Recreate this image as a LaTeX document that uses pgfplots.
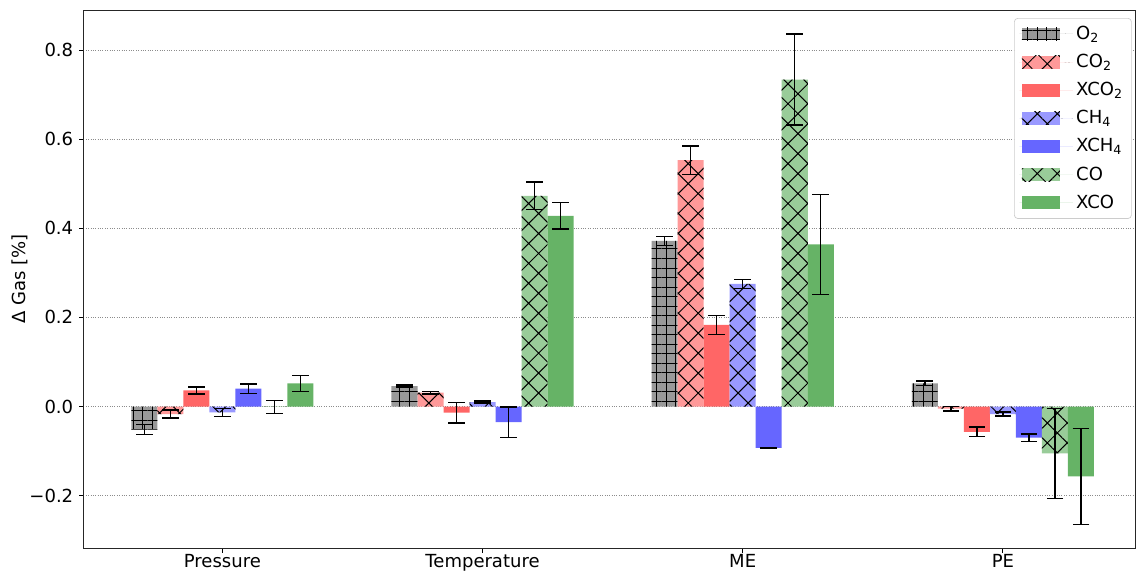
\documentclass[border=0pt]{standalone}
\usepackage{fontspec}
\setmainfont{DejaVu Sans}
\usepackage{pgfplots}
\pgfplotsset{compat=1.18}
\usetikzlibrary{patterns.meta}

\definecolor{cO}{HTML}{999999}
\definecolor{cCOtwo}{HTML}{FF9999}
\definecolor{cXCOtwo}{HTML}{FF6666}
\definecolor{cCH}{HTML}{9999FF}
\definecolor{cXCH}{HTML}{6666FF}
\definecolor{cCO}{HTML}{99CC99}
\definecolor{cXCO}{HTML}{66B366}

\pgfplotsset{
  gasbar/.style={ybar, bar width=0.1, bar shift=0pt, draw=none,
    legend image code/.code={%
      \path (-1.4pt,0) -- (30pt,0);
      \fill[sharp corners,##1] (0pt,-3.8pt) rectangle (22.3pt,3.8pt);},
    error bars/y dir=both, error bars/y explicit,
    error bars/error bar style={line width=0.8pt, black},
    error bars/error mark options={rotate=90, mark size=4.9pt, line width=0.8pt, black}},
  gridhatch/.style={postaction={pattern={Hatch[angle=0,distance=5.6pt,line width=0.6pt]}, pattern color=black}},
  crosshatch/.style={postaction={pattern={Hatch[angle=45,distance=8.3pt,line width=0.6pt]}, pattern color=black}},
}

\begin{document}
\begin{tikzpicture}[font=\fontsize{10.6}{12.7}\selectfont]
\useasboundingbox (-49.1pt,-14.1pt) rectangle (619.9pt,322.8pt);
\begin{axis}[
  scale only axis, width=619.2pt, height=316.9pt,
  xmin=-0.534, xmax=3.511, ymin=-0.319, ymax=0.890,
  xtick={0,1,2,3}, xticklabels={Pressure,Temperature,ME,PE},
  ytick={-0.2,0,0.2,0.4,0.6,0.8},
  yticklabels={−0.2,0.0,0.2,0.4,0.6,0.8},
  xtick pos=bottom, ytick pos=left,
  tick align=outside, major tick length=2.5pt,
  tick style={black, line width=0.5pt},
  xticklabel style={yshift=2.4pt},
  axis line style={black!85, line width=0.5pt},
  ymajorgrids, grid style={densely dotted, black!45, line width=0.4pt},
  ylabel={Δ Gas [\%]},
  every axis y label/.style={at={(axis description cs:-0.0602,0.5)}, rotate=90, anchor=center},
  legend style={at={(axis description cs:1,1)}, xshift=-2.4pt, yshift=-4.7pt,
    anchor=north east, draw=black!20, rounded corners=2pt, fill=white,
    inner xsep=3pt, inner ysep=2.5pt, row sep=3.2pt, cells={anchor=west},
    font=\fontsize{10.6}{12.7}\selectfont},
]
% O2
\addplot[gasbar, fill=cO, gridhatch] coordinates {
  (-0.3,-0.052) +- (0,0.011)
  (0.7,0.046) +- (0,0.002)
  (1.7,0.372) +- (0,0.010)
  (2.7,0.052) +- (0,0.005)};
\addlegendentry{O\textsubscript{2}}
% CO2
\addplot[gasbar, fill=cCOtwo, crosshatch] coordinates {
  (-0.2,-0.017) +- (0,0.009)
  (0.8,0.031) +- (0,0.003)
  (1.8,0.553) +- (0,0.032)
  (2.8,-0.005) +- (0,0.005)};
\addlegendentry{CO\textsubscript{2}}
% XCO2
\addplot[gasbar, fill=cXCOtwo] coordinates {
  (-0.1,0.036) +- (0,0.008)
  (0.9,-0.014) +- (0,0.023)
  (1.9,0.183) +- (0,0.022)
  (2.9,-0.057) +- (0,0.011)};
\addlegendentry{XCO\textsubscript{2}}
% CH4
\addplot[gasbar, fill=cCH, crosshatch] coordinates {
  (0.0,-0.013) +- (0,0.009)
  (1.0,0.010) +- (0,0.002)
  (2.0,0.275) +- (0,0.010)
  (3.0,-0.017) +- (0,0.0045)};
\addlegendentry{CH\textsubscript{4}}
% XCH4
\addplot[gasbar, fill=cXCH] coordinates {
  (0.1,0.040) +- (0,0.0105)
  (1.1,-0.035) +- (0,0.034)
  (2.1,-0.093) +- (0,0.001)
  (3.1,-0.070) +- (0,0.008)};
\addlegendentry{XCH\textsubscript{4}}
% CO
\addplot[gasbar, fill=cCO, crosshatch] coordinates {
  (0.2,-0.001) +- (0,0.014)
  (1.2,0.473) +- (0,0.031)
  (2.2,0.734) +- (0,0.102)
  (3.2,-0.105) +- (0,0.101)};
\addlegendentry{CO}
% XCO
\addplot[gasbar, fill=cXCO] coordinates {
  (0.3,0.052) +- (0,0.018)
  (1.3,0.428) +- (0,0.0295)
  (2.3,0.364) +- (0,0.112)
  (3.3,-0.157) +- (0,0.108)};
\addlegendentry{XCO}
\end{axis}
\end{tikzpicture}
\end{document}
